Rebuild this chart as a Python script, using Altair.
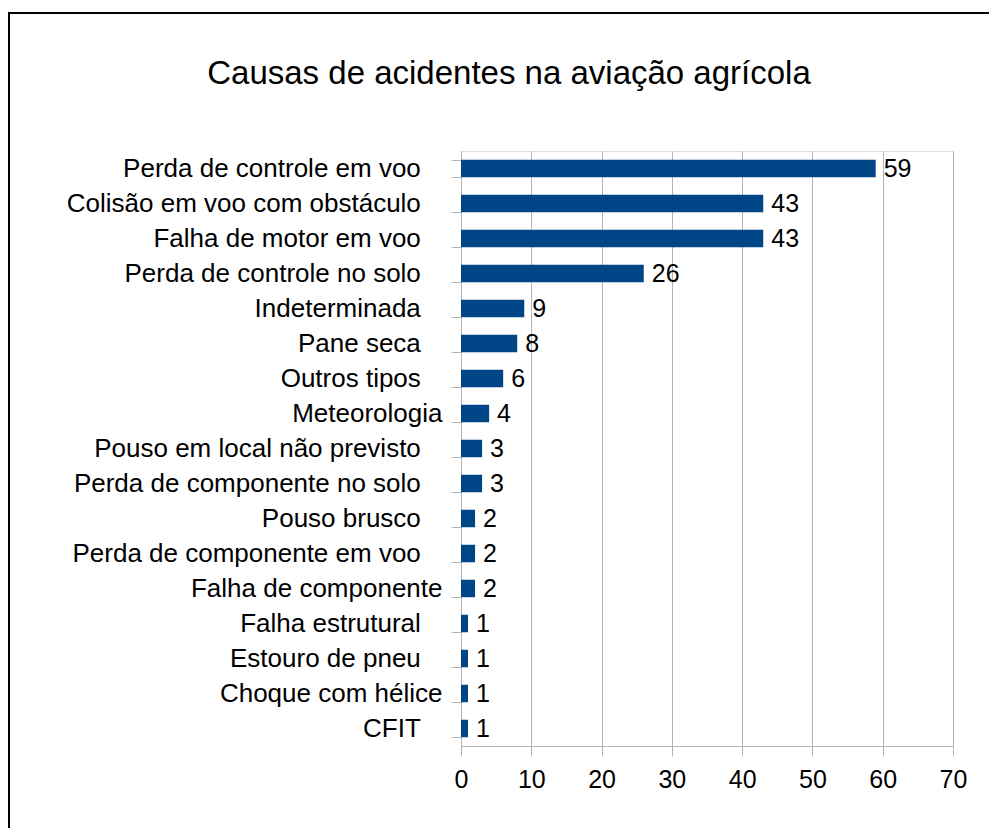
import altair as alt
import pandas as pd

NB = "\u00a0"
ZW = "\u200b"

categories = [
    "Perda de controle em voo",
    "Colisão em voo com obstáculo",
    "Falha de motor em voo",
    "Perda de controle no solo",
    "Indeterminada",
    "Pane seca",
    "Outros tipos",
    "Meteorologia",
    "Pouso em local não previsto",
    "Perda de componente no solo",
    "Pouso brusco",
    "Perda de componente em voo",
    "Falha de componente",
    "Falha estrutural",
    "Estouro de pneu",
    "Choque com hélice",
    "CFIT",
]
# labels that carry trailing spaces in the original chart
trailing_space = [True, True, True, True, True, True, True, False, True, True,
                  True, True, False, True, True, False, True]
values = [59, 43, 43, 26, 9, 8, 6, 4, 3, 3, 2, 2, 2, 1, 1, 1, 1]
x_ticks = [0, 10, 20, 30, 40, 50, 60, 70]

labels = [c + (NB * 3 + ZW if t else "") for c, t in zip(categories, trailing_space)]
df = pd.DataFrame({"causa": labels, "n": values})

FONT = "Liberation Sans"
GRAY = "#b3b3b3"
W, H = 492, 595

y_enc = alt.Y(
    "causa:N",
    sort=None,
    title=None,
    scale=alt.Scale(paddingInner=0.5, paddingOuter=0.25),
    axis=alt.Axis(
        tickBand="extent",
        tickSize=10,
        tickColor=GRAY,
        domainColor=GRAY,
        labelPadding=9,
        labelFontSize=26,
        labelFont=FONT,
        labelColor="#000000",
        labelLimit=0,
        grid=False,
    ),
)
x_enc = alt.X(
    "n:Q",
    title=None,
    scale=alt.Scale(domain=[0, 70], nice=False),
    axis=alt.Axis(
        values=x_ticks,
        tickSize=10,
        tickColor=GRAY,
        domainColor=GRAY,
        gridColor=GRAY,
        labelPadding=11,
        labelFontSize=25,
        labelFont=FONT,
        labelColor="#000000",
        labelFlush=False,
    ),
)

base = alt.Chart(df)
bars = base.mark_bar(color="#004586").encode(x=x_enc, y=y_enc)
text = base.mark_text(
    align="left", baseline="middle", dx=8, fontSize=25, font=FONT, color="#000000"
).encode(x="n:Q", y=alt.Y("causa:N", sort=None), text="n:Q")

border = alt.Chart(alt.Data(values=[{"a": 1}])).mark_rect(
    filled=False, stroke="#000000", strokeWidth=2
).encode(
    x=alt.value(-452), x2=alt.value(560),
    y=alt.value(-138), y2=alt.value(720),
)

chart = alt.layer(bars, text, border).properties(
    width=W,
    height=H,
    title=alt.TitleParams(
        "Causas de acidentes na aviação agrícola",
        font=FONT,
        fontSize=33,
        fontWeight="normal",
        color="#000000",
        anchor="middle",
        frame="group",
        baseline="alphabetic",
        dx=-198,
        offset=-105,
    ),
    autosize=alt.AutoSizeParams(type="none"),
    padding={"left": 453, "top": 143, "right": 36, "bottom": 82},
).configure_view(stroke=GRAY).configure(background="white")

chart.save("out.html", embed_options={"renderer": "svg", "actions": False})
